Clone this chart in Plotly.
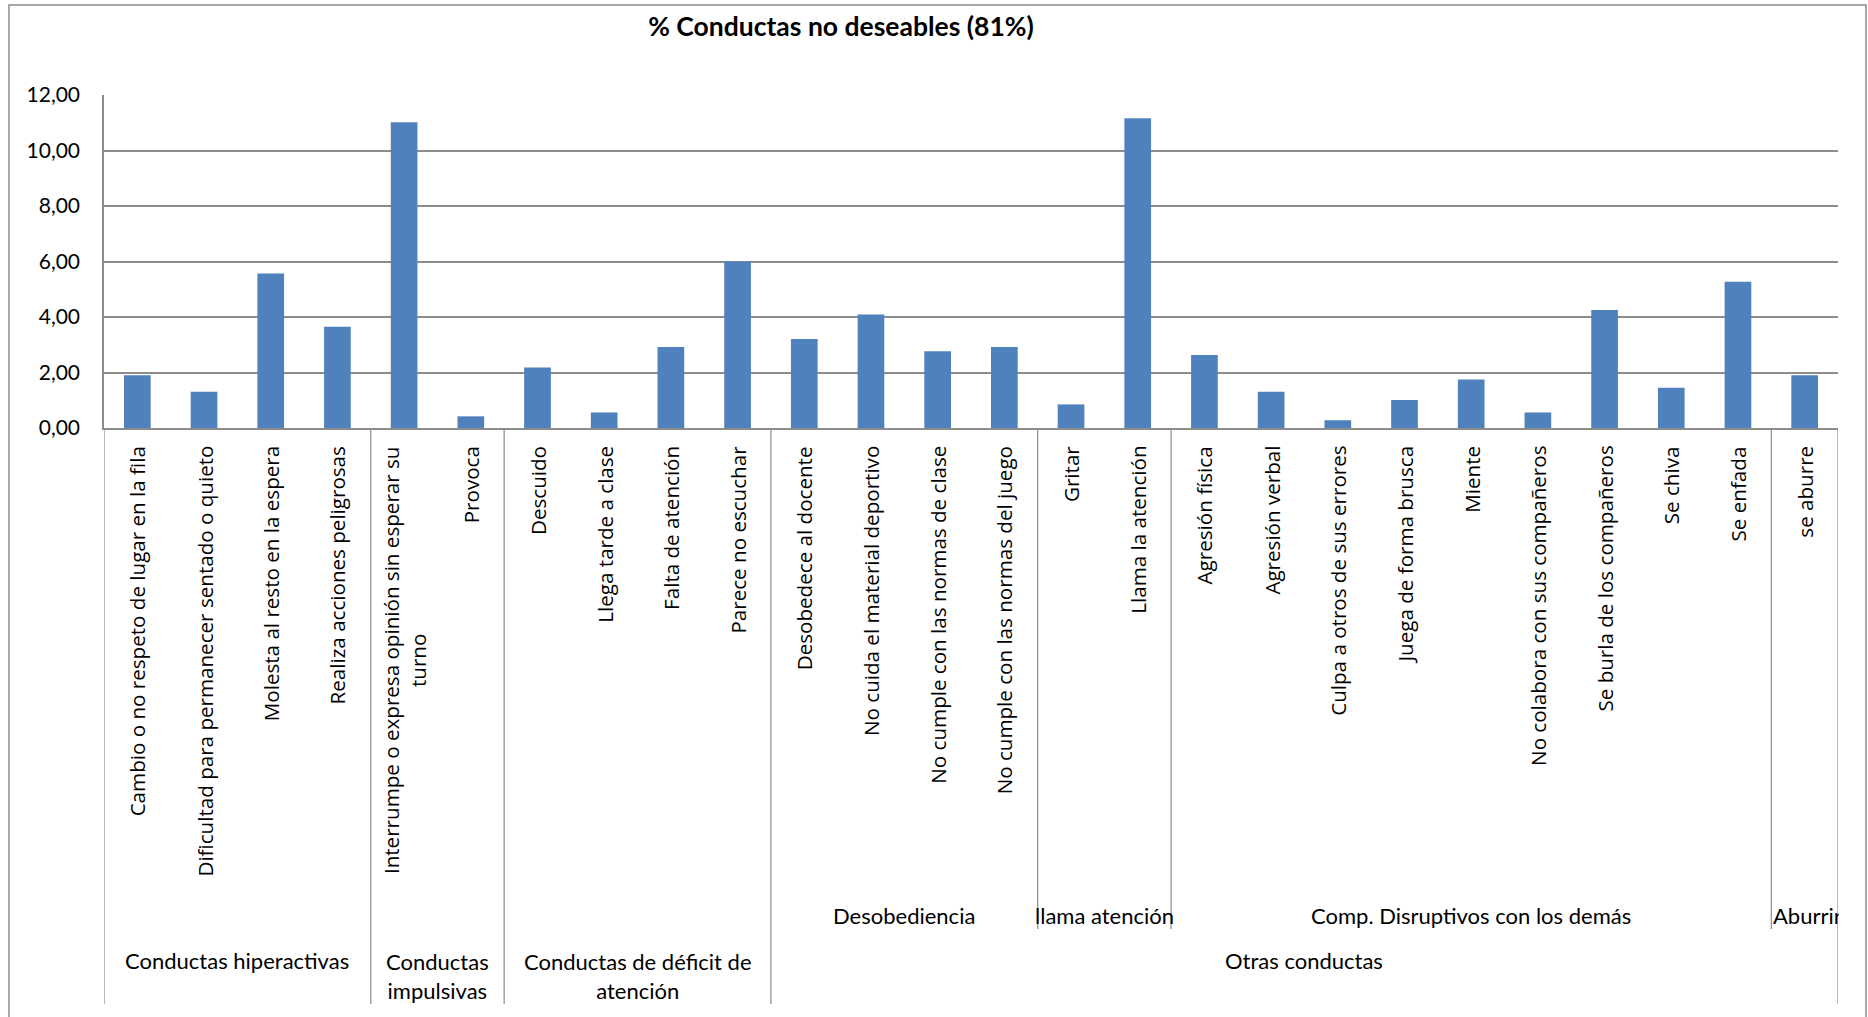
import plotly.graph_objects as go

# Behaviour categories (level 1), in chart order
categorias = [
    "Cambio o no respeto de lugar en la fila",
    "Dificultad para permanecer sentado o quieto",
    "Molesta al resto en la espera",
    "Realiza acciones peligrosas",
    "Interrumpe o expresa opinión sin esperar su<br>turno",
    "Provoca",
    "Descuido",
    "Llega tarde a clase",
    "Falta de atención",
    "Parece no escuchar",
    "Desobedece al docente",
    "No cuida el material deportivo",
    "No cumple con las normas de clase",
    "No cumple con las normas del juego",
    "Gritar",
    "Llama la atención",
    "Agresión física",
    "Agresión verbal",
    "Culpa a otros de sus errores",
    "Juega de forma brusca",
    "Miente",
    "No colabora con sus compañeros",
    "Se burla de los compañeros",
    "Se chiva",
    "Se enfada",
    "se aburre",
]

porcentajes = [
    1.90, 1.31, 5.57, 3.65, 11.02, 0.42, 2.18, 0.56, 2.92, 6.00,
    3.21, 4.09, 2.77, 2.92, 0.85, 11.16, 2.63, 1.31, 0.28, 1.01,
    1.75, 0.56, 4.25, 1.45, 5.27, 1.90,
]

# Top-level groups and how many categories each spans
grupos = ["Conductas hiperactivas", "Conductas<br>impulsivas",
          "Conductas de déficit de<br>atención", "Otras conductas"]
grupos_n = [4, 2, 4, 16]

# Sub-groups inside "Otras conductas"
subgrupos = ["Desobediencia", "llama atención",
             "Comp. Disruptivos con los demás", "Aburrir"]
subgrupos_n = [4, 2, 9, 1]
subgrupos_inicio = 10

titulo = "% Conductas no deseables (81%)"
y_ticks = [0, 2, 4, 6, 8, 10, 12]

# ---- layout geometry (pixels) ----
W, H = 1868, 1017
PL, PR, PT, PB = 104, 1838, 95, 428
FONT_CAT = "Open Sans"
FONT_TXT = "Lato"
GRID = "#8c8c8c"


def py(px):
    """Pixel row -> paper y coordinate of the plot area."""
    return (PB - px) / (PB - PT)


x = list(range(len(categorias)))

fig = go.Figure(
    go.Bar(
        x=x,
        y=porcentajes,
        width=0.4,
        marker=dict(color="#4F81BD", line=dict(width=0)),
        hovertext=[c.replace("<br>", " ") for c in categorias],
    )
)

annotations = []
shapes = []

# Rotated category labels
for i, c in enumerate(categorias):
    annotations.append(dict(
        x=i, xref="x", y=py(444), yref="paper",
        text=c, textangle=-90, showarrow=False,
        xanchor="center", yanchor="top", align="center",
        font=dict(family=FONT_CAT, size=20.6, color="#000000"),
    ))

# Top-level group labels and dividers
start = 0
bounds_full = [0]
for name, n in zip(grupos, grupos_n):
    centre = start + (n - 1) / 2
    two_lines = "<br>" in name
    annotations.append(dict(
        x=centre, xref="x", y=py(976 if two_lines else 961), yref="paper",
        text=name, showarrow=False, xanchor="center", yanchor="middle",
        align="center", font=dict(family=FONT_TXT, size=22, color="#000000"),
    ))
    start += n
    bounds_full.append(start)

for b in bounds_full:
    shapes.append(dict(type="line", xref="x", yref="paper",
                       x0=b - 0.5, x1=b - 0.5, y0=0, y1=py(1004),
                       line=dict(color=GRID, width=1.2)))

# Sub-group labels and their dividers
start = subgrupos_inicio
for k, (name, n) in enumerate(zip(subgrupos, subgrupos_n)):
    last = k == len(subgrupos) - 1
    if last:
        # the last sub-group is narrower than its label: clip at the plot edge
        annotations.append(dict(
            x=start - 0.5, xref="x", y=py(915), yref="paper",
            text=name, showarrow=False, xanchor="left", yanchor="middle",
            align="left", width=(PR - PL) / len(categorias) - 1,
            font=dict(family=FONT_TXT, size=22, color="#000000"),
        ))
    else:
        annotations.append(dict(
            x=start + (n - 1) / 2, xref="x", y=py(915), yref="paper",
            text=name, showarrow=False, xanchor="center", yanchor="middle",
            font=dict(family=FONT_TXT, size=22, color="#000000"),
        ))
    if k > 0:
        shapes.append(dict(type="line", xref="x", yref="paper",
                           x0=start - 0.5, x1=start - 0.5, y0=0, y1=py(929),
                           line=dict(color=GRID, width=1.2)))
    start += n

# Chart-area border
shapes.append(dict(type="rect", xref="paper", yref="paper",
                   x0=(9 - PL) / (PR - PL), x1=(1866 - PL) / (PR - PL),
                   y0=py(1030), y1=py(5),
                   line=dict(color="#8a8a8a", width=1.5)))

fig.update_layout(
    width=W, height=H,
    margin=dict(l=PL, r=W - PR, t=PT, b=H - PB, pad=0),
    paper_bgcolor="white", plot_bgcolor="white",
    separators=",.",
    showlegend=False,
    title=dict(
        text=f"<b>{titulo}</b>", xref="container", yref="container",
        x=841 / W, y=1 - 27 / H, xanchor="center", yanchor="middle",
        font=dict(family=FONT_TXT, size=26.5, color="#000000"),
    ),
    xaxis=dict(
        range=[-0.5, len(categorias) - 0.5],
        showticklabels=False, ticks="", showgrid=False, zeroline=False,
        showline=True, linecolor=GRID, linewidth=1.5,
    ),
    yaxis=dict(
        range=[0, 12], tickvals=y_ticks, tickformat=".2f",
        ticks="", ticklabelstandoff=18,
        showgrid=True, gridcolor=GRID, gridwidth=1.5,
        zeroline=False, showline=True, linecolor=GRID, linewidth=1.5,
        tickfont=dict(family=FONT_TXT, size=21, color="#000000"),
    ),
    annotations=annotations,
    shapes=shapes,
)

fig.write_html("out.html")
